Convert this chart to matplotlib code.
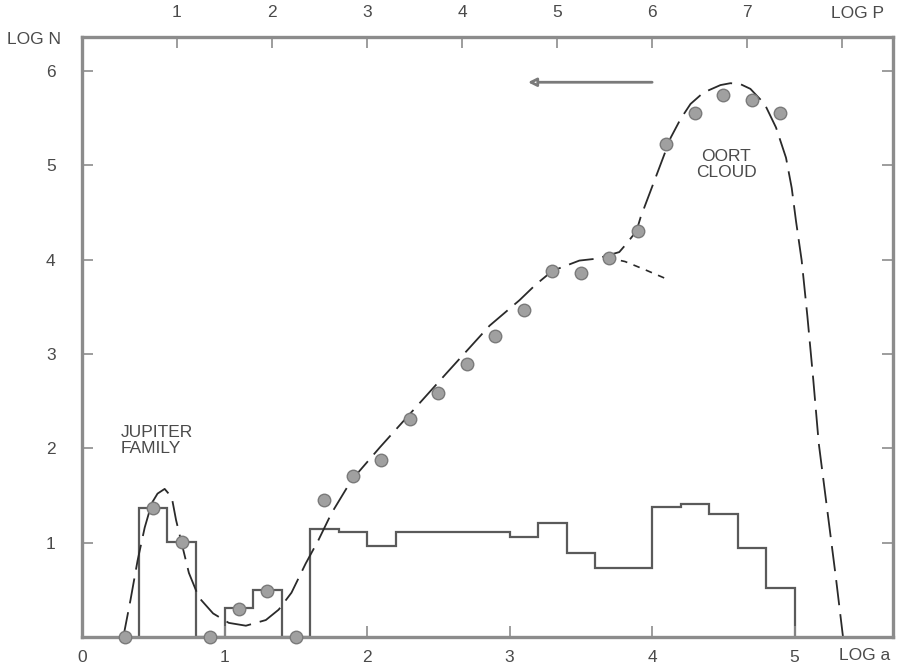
import matplotlib.pyplot as plt
import numpy as np

plt.rcParams['font.family'] = ['Liberation Sans', 'DejaVu Sans']

# histogram of comets per 0.2 bin in log a
bin_edges = [0.4, 0.6, 0.8, 1.0, 1.2, 1.4, 1.6, 1.8, 2.0, 2.2, 2.4, 2.6,
             2.8, 3.0, 3.2, 3.4, 3.6, 3.8, 4.0, 4.2, 4.4, 4.6, 4.8, 5.0]
hist_n = [1.37, 1.01, 0.0, 0.31, 0.50, 0.0, 1.14, 1.11, 0.96, 1.11, 1.11,
          1.11, 1.11, 1.06, 1.21, 0.89, 0.73, 0.73, 1.38, 1.41, 1.30, 0.94, 0.52]

# log N points
pts_a = [0.3, 0.5, 0.7, 0.9, 1.1, 1.3, 1.5, 1.7, 1.9, 2.1, 2.3, 2.5, 2.7,
         2.9, 3.1, 3.3, 3.5, 3.7, 3.9, 4.1, 4.3, 4.5, 4.7, 4.9]
pts_n = [0.0, 1.37, 1.01, 0.0, 0.30, 0.49, 0.0, 1.45, 1.71, 1.88, 2.31, 2.59,
         2.89, 3.19, 3.47, 3.88, 3.86, 4.02, 4.30, 5.23, 5.55, 5.74, 5.69, 5.55]

# model curve (long dashes)
curve_a = [0.29, 0.34, 0.39, 0.44, 0.49, 0.53, 0.58, 0.63, 0.66, 0.70, 0.75,
           0.82, 0.92, 1.03, 1.15, 1.29, 1.38, 1.47, 1.57, 1.66, 1.75, 1.89,
           2.09, 2.31, 2.56, 2.86, 3.07, 3.18, 3.30, 3.49, 3.61, 3.77, 3.81,
           3.89, 3.92, 3.99, 4.07, 4.13, 4.20, 4.27, 4.36, 4.48, 4.55, 4.62,
           4.69, 4.79, 4.87, 4.94, 4.98, 5.01, 5.05, 5.09, 5.13, 5.17, 5.23,
           5.29, 5.34]
curve_n = [0.0, 0.39, 0.81, 1.16, 1.42, 1.52, 1.57, 1.48, 1.24, 0.99, 0.68,
           0.42, 0.25, 0.15, 0.12, 0.18, 0.29, 0.47, 0.78, 1.03, 1.31, 1.66,
           2.01, 2.38, 2.80, 3.30, 3.57, 3.73, 3.88, 3.99, 4.01, 4.08, 4.15,
           4.30, 4.45, 4.73, 5.05, 5.29, 5.49, 5.65, 5.77, 5.85, 5.87, 5.86,
           5.81, 5.65, 5.40, 5.08, 4.76, 4.41, 3.99, 3.40, 2.75, 2.05, 1.34,
           0.63, 0.0]

# continuation of the lower branch (short dashes)
branch_a = [3.69, 3.81, 3.94, 4.11]
branch_n = [4.02, 3.98, 3.90, 3.79]

fig = plt.figure(figsize=(9.01, 6.66), dpi=100)
ax = fig.add_axes([0.091, 0.0435, 0.900, 0.901])

frame_c = '#8c8c8c'
text_c = '#4a4a4a'

ax.stairs(hist_n, bin_edges, baseline=0, color='#5a5a5a', lw=1.6)
ax.plot(curve_a, curve_n, color='#2a2a2a', lw=1.3, dashes=(14, 5))
ax.plot(branch_a, branch_n, color='#2a2a2a', lw=1.2, dashes=(4, 4))
ax.plot(pts_a, pts_n, 'o', ms=9, mfc='#a0a0a0', mec='#7a7a7a', mew=1.0,
        clip_on=False, zorder=5)

ax.annotate('', xy=(3.11, 5.88), xytext=(4.02, 5.88),
            arrowprops=dict(arrowstyle='-|>', color='#7a7a7a', lw=2,
                            mutation_scale=12, fc='white'))

ax.text(0.27, 2.08, 'JUPITER\nFAMILY', fontsize=12.5, color=text_c,
        ha='left', va='center', linespacing=1.05)
ax.text(4.52, 5.01, 'OORT\nCLOUD', fontsize=12.5, color=text_c,
        ha='center', va='center', linespacing=1.05)

ax.set_xlim(0, 5.69)
ax.set_ylim(0, 6.36)

for s in ax.spines.values():
    s.set_color(frame_c)
    s.set_linewidth(2.4)

ax.set_xticks([0, 1, 2, 3, 4, 5])
ax.set_yticks([1, 2, 3, 4, 5, 6])
ax.tick_params(direction='in', length=8, width=1.2, color=frame_c,
               labelsize=12.5, labelcolor=text_c, right=True)
ax.tick_params(axis='x', pad=9)
ax.tick_params(axis='y', pad=19)

# period axis on top: log P = 1.5 log a
top = ax.secondary_xaxis('top', functions=(lambda a: 1.5 * a, lambda p: p / 1.5))
top.set_xticks([1, 2, 3, 4, 5, 6, 7, 8])
top.set_xticklabels(['1', '2', '3', '4', '5', '6', '7', ''])
top.tick_params(direction='in', length=8, width=1.2, color=frame_c,
                labelsize=12.5, labelcolor=text_c, pad=12)
top.spines['top'].set_visible(False)

fig.text(0.008, 0.941, 'LOG N', fontsize=12.5, color=text_c, va='center')
fig.text(0.981, 0.980, 'LOG P', fontsize=12.5, color=text_c, va='center', ha='right')
fig.text(0.988, 0.0165, 'LOG a', fontsize=12.5, color=text_c, va='center', ha='right')

fig.savefig('out.png', dpi=100)
